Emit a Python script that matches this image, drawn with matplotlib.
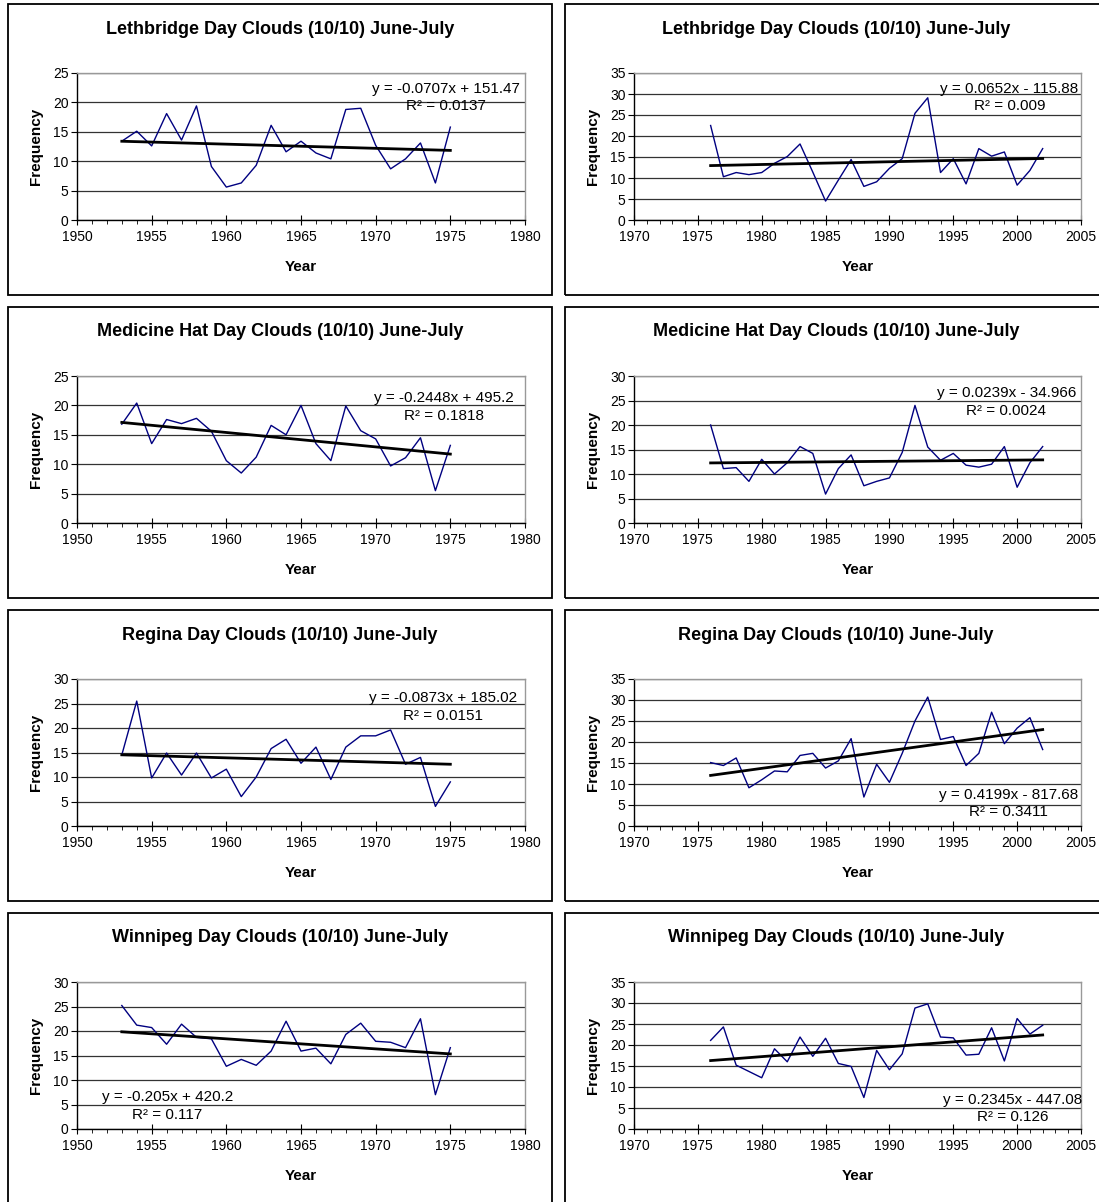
import matplotlib
matplotlib.use("Agg")
import matplotlib.pyplot as plt
from matplotlib.patches import Rectangle
from matplotlib.ticker import MultipleLocator

plt.rcParams["font.family"] = ["Liberation Sans", "DejaVu Sans"]

W, H = 1099, 1202

YEARS_EARLY = list(range(1953, 1976))
YEARS_LATE = list(range(1976, 2003))

# Lethbridge
leth_early = [13.4, 15.1, 12.6, 18.1, 13.6, 19.4, 9.1, 5.6, 6.3, 9.3, 16.1, 11.6,
              13.4, 11.4, 10.4, 18.8, 19.0, 12.7, 8.7, 10.4, 13.1, 6.3, 15.8]
leth_late = [22.5, 10.3, 11.3, 10.8, 11.3, 13.5, 15.1, 18.1, 11.4, 4.5, 9.5, 14.4,
             8.0, 9.1, 12.3, 14.6, 25.4, 29.1, 11.3, 14.6, 8.6, 17.0, 15.2, 16.2,
             8.3, 11.8, 17.0]
# Medicine Hat
mh_early = [16.8, 20.4, 13.5, 17.6, 16.9, 17.8, 15.6, 10.6, 8.5, 11.2, 16.6, 15.0,
            20.0, 13.5, 10.6, 19.9, 15.7, 14.3, 9.7, 11.1, 14.5, 5.5, 13.2]
mh_late = [20.0, 11.1, 11.3, 8.5, 13.0, 10.0, 12.3, 15.6, 14.2, 5.9, 11.1, 13.9,
           7.6, 8.5, 9.2, 14.4, 24.0, 15.5, 12.8, 14.2, 11.8, 11.4, 12.0, 15.6,
           7.3, 12.3, 15.6]
# Regina
reg_early = [14.5, 25.5, 9.8, 14.9, 10.4, 14.9, 9.8, 11.6, 6.0, 10.0, 15.8, 17.7,
             12.8, 16.1, 9.5, 16.1, 18.4, 18.4, 19.6, 12.6, 14.0, 4.0, 9.0]
reg_late = [15.1, 14.4, 16.2, 9.1, 11.0, 13.1, 12.9, 16.8, 17.3, 13.8, 15.5, 20.8,
            6.9, 14.7, 10.4, 17.3, 25.0, 30.7, 20.6, 21.3, 14.4, 17.3, 27.1, 19.6,
            23.3, 25.8, 18.2]
# Winnipeg
win_early = [25.2, 21.2, 20.7, 17.3, 21.4, 18.7, 18.4, 12.8, 14.2, 13.0, 15.9, 22.0,
             15.9, 16.5, 13.3, 19.3, 21.6, 17.9, 17.7, 16.6, 22.5, 7.0, 16.6]
win_late = [21.1, 24.3, 15.2, 13.7, 12.2, 19.1, 16.0, 21.9, 17.3, 21.6, 15.6, 14.9,
            7.5, 18.7, 14.1, 17.9, 28.8, 29.8, 21.9, 21.7, 17.6, 17.8, 24.1, 16.2,
            26.3, 22.6, 24.7]

STATIONS = ["Lethbridge", "Medicine Hat", "Regina", "Winnipeg"]
SERIES = [[leth_early, leth_late], [mh_early, mh_late],
          [reg_early, reg_late], [win_early, win_late]]
SLOPES = [[-0.0707, 0.0652], [-0.2448, 0.0239], [-0.0873, 0.4199], [-0.205, 0.2345]]
INTERCEPTS = [[151.47, -115.88], [495.2, -34.966], [185.02, -817.68], [420.2, -447.08]]
R2_LABELS = [["0.0137", "0.009"], ["0.1818", "0.0024"], ["0.0151", "0.3411"], ["0.117", "0.126"]]
YMAX = [[25, 35], [25, 30], [30, 35], [30, 35]]
XLIM = [(1950, 1980), (1970, 2005)]
# equation label centre, axes fraction
EQ_POS = [[(0.824, 0.833), (0.84, 0.833)],
          [(0.82, 0.79), (0.833, 0.823)],
          [(0.817, 0.81), (0.838, 0.153)],
          [(0.202, 0.156), (0.848, 0.139)]]


def eq_text(slope, intercept, r2):
    sign = "+" if intercept >= 0 else "-"
    return f"y = {slope:g}x {sign} {abs(intercept):g}\nR\u00b2 = {r2}"


fig = plt.figure(figsize=(W / 100, H / 100), dpi=100)

BOX_X = [(8, 552), (565, 1110)]
PLOT_X = [(77, 525), (634, 1081)]
ROW_STEP = 303

for r, station in enumerate(STATIONS):
    top = 4 + r * ROW_STEP
    bottom = 295 + r * ROW_STEP if r < 3 else 1210
    for c in range(2):
        bx0, bx1 = BOX_X[c]
        fig.patches.append(Rectangle((bx0 / W, 1 - bottom / H), (bx1 - bx0) / W,
                                     (bottom - top) / H, transform=fig.transFigure,
                                     fill=False, edgecolor="black", linewidth=1.3))
        px0, px1 = PLOT_X[c]
        ptop = 73 + r * ROW_STEP
        ax = fig.add_axes([px0 / W, 1 - (ptop + 147) / H, (px1 - px0) / W, 147 / H])
        years = YEARS_EARLY if c == 0 else YEARS_LATE
        vals = SERIES[r][c]
        ax.plot(years, vals, color="#000080", linewidth=1.0)
        m, b = SLOPES[r][c], INTERCEPTS[r][c]
        ax.plot([years[0], years[-1]], [m * years[0] + b, m * years[-1] + b],
                color="black", linewidth=2.0)
        ax.set_xlim(*XLIM[c])
        ax.set_ylim(0, YMAX[r][c])
        ax.xaxis.set_major_locator(MultipleLocator(5))
        ax.xaxis.set_minor_locator(MultipleLocator(1))
        ax.yaxis.set_major_locator(MultipleLocator(5))
        ax.grid(True, axis="y", color="#333333", linewidth=0.9)
        ax.set_axisbelow(True)
        for side in ("top", "right"):
            ax.spines[side].set_color("#999999")
            ax.spines[side].set_linewidth(1.0)
        for side in ("left", "bottom"):
            ax.spines[side].set_color("black")
            ax.spines[side].set_linewidth(1.0)
        ax.tick_params(axis="x", which="major", direction="inout", length=7, labelsize=10, pad=4)
        ax.tick_params(axis="x", which="minor", direction="out", length=3)
        ax.tick_params(axis="y", which="major", direction="out", length=4, labelsize=10, pad=2)
        ax.set_xlabel("Year", fontsize=11, fontweight="bold", labelpad=11)
        ax.set_ylabel("Frequency", fontsize=11, fontweight="bold", labelpad=7)
        ex, ey = EQ_POS[r][c]
        ax.text(ex, ey, eq_text(m, b, R2_LABELS[r][c]), transform=ax.transAxes,
                ha="center", va="center", fontsize=11, linespacing=1.3)
        title_x = (bx0 + 1107) / 2 if c == 1 else (bx0 + bx1) / 2
        fig.text(title_x / W, 1 - (top + 25) / H,
                 f"{station} Day Clouds (10/10) June-July",
                 ha="center", va="center", fontsize=13, fontweight="bold")

fig.savefig("out.png", dpi=100)
